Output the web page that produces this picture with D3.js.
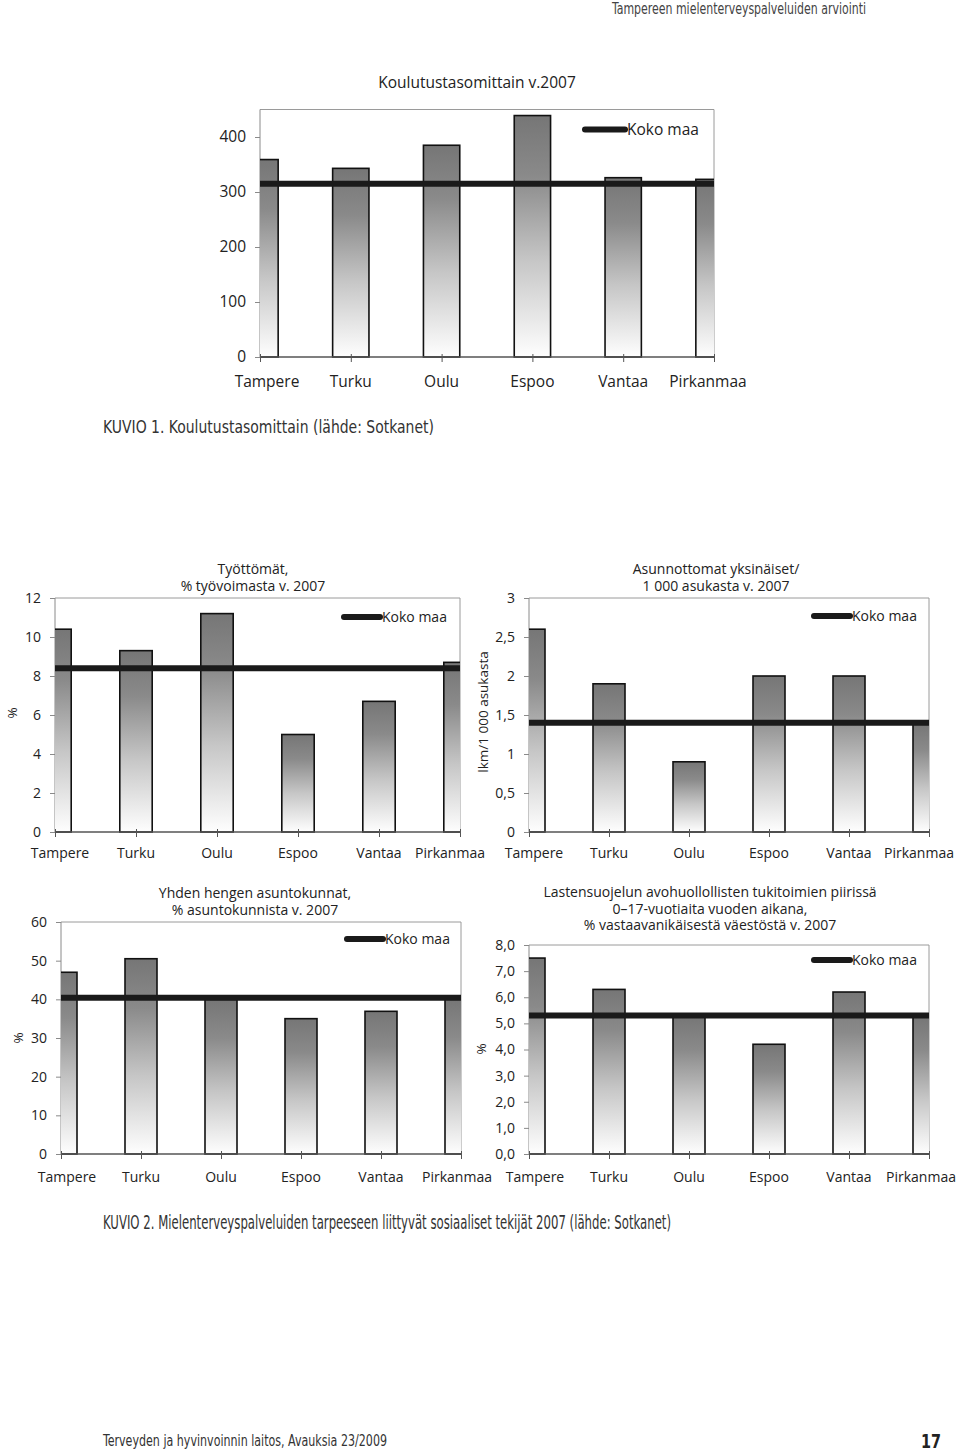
<!DOCTYPE html>
<html>
<head>
<meta charset="utf-8">
<script src="https://cdn.jsdelivr.net/npm/d3@7/dist/d3.min.js"></script>
<style>
  html, body { margin: 0; padding: 0; background: #fff; }
  svg { display: block; }
</style>
</head>
<body>
<svg id="page" width="960" height="1451"></svg>
<script>
// ---------------- DATA ----------------
const categories = ["Tampere", "Turku", "Oulu", "Espoo", "Vantaa", "Pirkanmaa"];

const koulutusValues = [359, 343, 385, 439, 326, 323];
const koulutusKoko = 315;
const koulutusTicks = [0, 100, 200, 300, 400];

const tyottomatValues = [10.4, 9.3, 11.2, 5.0, 6.7, 8.7];
const tyottomatKoko = 8.4;
const tyottomatTicks = [0, 2, 4, 6, 8, 10, 12];

const asunnottomatValues = [2.6, 1.9, 0.9, 2.0, 2.0, 1.4];
const asunnottomatKoko = 1.4;
const asunnottomatTicks = [0, 0.5, 1, 1.5, 2, 2.5, 3];

const yhdenValues = [47, 50.5, 40.0, 35.0, 36.9, 40.2];
const yhdenKoko = 40.4;
const yhdenTicks = [0, 10, 20, 30, 40, 50, 60];

const lastensValues = [7.5, 6.3, 5.3, 4.2, 6.2, 5.3];
const lastensKoko = 5.3;
const lastensTicks = [0, 1, 2, 3, 4, 5, 6, 7, 8];

const legendLabel = "Koko maa";

// ---------------- DRAWING ----------------
const svg = d3.select("#page");
const FONT = "'Open Sans', 'Noto Sans', sans-serif";
const NARROW = "'Liberation Sans Narrow', 'DejaVu Sans Condensed', sans-serif";

const defs = svg.append("defs");
const grad = defs.append("linearGradient")
  .attr("id", "barGrad").attr("x1", 0).attr("y1", 0).attr("x2", 0).attr("y2", 1);
[[0, "#767676"], [0.25, "#8a8a8a"], [0.6, "#c6c6c6"], [1, "#fefefe"]].forEach(s =>
  grad.append("stop").attr("offset", s[0]).attr("stop-color", s[1]));

const commaFmt1 = d => d3.format(".1f")(d).replace(".", ",");
const commaFmtG = d => String(d).replace(".", ",");

let chartId = 0;
function drawChart(cfg) {
  const id = chartId++;
  const g = svg.append("g");
  const x = d3.scalePoint().domain(categories).range([cfg.left, cfg.right]);
  const y = d3.scaleLinear().domain([0, cfg.max]).range([cfg.bottom, cfg.top]);
  const step = x.step();
  const bw = step * 0.4;

  defs.append("clipPath").attr("id", "clip" + id)
    .append("rect")
    .attr("x", cfg.left).attr("y", cfg.top - 2)
    .attr("width", cfg.right - cfg.left).attr("height", cfg.bottom - cfg.top + 4);

  // plot border (top & right)
  g.append("path")
    .attr("d", `M${cfg.left},${cfg.top}H${cfg.right}V${cfg.bottom}`)
    .attr("fill", "none").attr("stroke", "#9a9a9a").attr("stroke-width", 1);

  // y axis
  const yAxis = d3.axisLeft(y).tickValues(cfg.ticks).tickSize(5).tickPadding(9)
    .tickFormat(cfg.fmt || (d => d));
  const ya = g.append("g").attr("transform", `translate(${cfg.left},0)`).call(yAxis);
  ya.select(".domain").attr("stroke", "#8a8a8a").attr("d", `M0,${cfg.top}V${cfg.bottom}`);
  ya.selectAll(".tick line").attr("stroke", "#8a8a8a");
  ya.selectAll("text").attr("font-family", FONT).attr("font-size", cfg.fs).attr("fill", "#222");

  // bars
  const bars = g.append("g").attr("clip-path", `url(#clip${id})`);
  bars.selectAll("rect").data(cfg.values).join("rect")
    .attr("x", (d, i) => x(categories[i]) - bw / 2)
    .attr("y", d => y(d))
    .attr("width", bw)
    .attr("height", d => y(0) - y(d))
    .attr("fill", "url(#barGrad)")
    .attr("stroke", "#111").attr("stroke-width", 1.6);

  // x axis
  const xAxis = d3.axisBottom(x).tickSize(5).tickFormat("");
  const xa = g.append("g").attr("transform", `translate(0,${cfg.bottom})`).call(xAxis);
  xa.select(".domain").attr("stroke", "#555").attr("stroke-width", 1.3)
    .attr("d", `M${cfg.left},0H${cfg.right}`);
  xa.selectAll(".tick line").attr("stroke", "#555").attr("y1", -3);

  // x labels
  g.append("g").selectAll("text").data(categories).join("text")
    .attr("x", (d, i) => x(d) + (i === 0 ? cfg.firstDx : i === categories.length - 1 ? cfg.lastDx : 0))
    .attr("y", cfg.bottom + cfg.labelDy)
    .attr("text-anchor", "middle")
    .attr("font-family", FONT).attr("font-size", cfg.fs).attr("fill", "#222")
    .text(d => d);

  // Koko maa line
  g.append("line")
    .attr("x1", cfg.left).attr("x2", cfg.right)
    .attr("y1", y(cfg.koko)).attr("y2", y(cfg.koko))
    .attr("stroke", "#1a1a1a").attr("stroke-width", 6);

  // legend
  const ly = cfg.top + cfg.legendDy;
  const lx2 = cfg.right - cfg.legendRight;
  g.append("line")
    .attr("x1", lx2 - cfg.legendLen).attr("x2", lx2).attr("y1", ly).attr("y2", ly)
    .attr("stroke", "#1a1a1a").attr("stroke-width", 6).attr("stroke-linecap", "round");
  g.append("text")
    .attr("x", lx2 + 2).attr("y", ly).attr("dy", "0.35em")
    .attr("font-family", FONT).attr("font-size", cfg.fs).attr("fill", "#222")
    .text(legendLabel);

  // title
  g.append("g").selectAll("text").data(cfg.title).join("text")
    .attr("x", cfg.titleX).attr("y", (d, i) => cfg.titleY + i * cfg.titleLH)
    .attr("text-anchor", "middle")
    .attr("font-family", FONT).attr("font-size", cfg.titleFs).attr("fill", "#222")
    .text(d => d);

  // y label
  if (cfg.ylabel) {
    g.append("text")
      .attr("transform", `translate(${cfg.ylabelX},${cfg.ylabelY}) rotate(-90)`)
      .attr("text-anchor", "middle").attr("dy", "0.35em")
      .attr("font-family", FONT).attr("font-size", cfg.fs - 0.5).attr("fill", "#222")
      .text(cfg.ylabel);
  }
}

// Top chart
drawChart({
  values: koulutusValues, koko: koulutusKoko, ticks: koulutusTicks, max: 450,
  left: 260, right: 714, top: 109.5, bottom: 357,
  fs: 15.5, labelDy: 30, firstDx: 7, lastDx: -6,
  legendDy: 20, legendRight: 89, legendLen: 40,
  title: ["Koulutustasomittain v.2007"], titleX: 477, titleY: 88, titleLH: 17, titleFs: 15.5
});

// Työttömät
drawChart({
  values: tyottomatValues, koko: tyottomatKoko, ticks: tyottomatTicks, max: 12,
  left: 55, right: 460, top: 598, bottom: 832,
  fs: 14, labelDy: 26, firstDx: 5, lastDx: -10,
  legendDy: 19, legendRight: 80, legendLen: 36,
  title: ["Työttömät,", "% työvoimasta v. 2007"], titleX: 253, titleY: 574, titleLH: 16.5, titleFs: 14,
  ylabel: "%", ylabelX: 12, ylabelY: 713
});

// Asunnottomat
drawChart({
  values: asunnottomatValues, koko: asunnottomatKoko, ticks: asunnottomatTicks, max: 3,
  left: 529, right: 929, top: 598, bottom: 832, fmt: commaFmtG,
  fs: 14, labelDy: 26, firstDx: 5, lastDx: -10,
  legendDy: 18, legendRight: 79, legendLen: 36,
  title: ["Asunnottomat yksinäiset/", "1 000 asukasta v. 2007"], titleX: 716, titleY: 574, titleLH: 16.5, titleFs: 14,
  ylabel: "lkm/1 000 asukasta", ylabelX: 483, ylabelY: 712
});

// Yhden hengen asuntokunnat
drawChart({
  values: yhdenValues, koko: yhdenKoko, ticks: yhdenTicks, max: 60,
  left: 61, right: 461, top: 922, bottom: 1154,
  fs: 14, labelDy: 28, firstDx: 6, lastDx: -4,
  legendDy: 17, legendRight: 78, legendLen: 36,
  title: ["Yhden hengen asuntokunnat,", "% asuntokunnista v. 2007"], titleX: 255, titleY: 898, titleLH: 16.5, titleFs: 14,
  ylabel: "%", ylabelX: 18, ylabelY: 1038
});

// Lastensuojelu
drawChart({
  values: lastensValues, koko: lastensKoko, ticks: lastensTicks, max: 8,
  left: 529, right: 929, top: 945, bottom: 1154, fmt: commaFmt1,
  fs: 14, labelDy: 28, firstDx: 6, lastDx: -8,
  legendDy: 15, legendRight: 79, legendLen: 36,
  title: ["Lastensuojelun avohuollollisten tukitoimien piirissä", "0–17-vuotiaita vuoden aikana,", "% vastaavanikäisestä väestöstä v. 2007"],
  titleX: 710, titleY: 897, titleLH: 16.5, titleFs: 14,
  ylabel: "%", ylabelX: 481, ylabelY: 1049
});

// Page texts
function pageText(txt, x, y, size, len, opts = {}) {
  svg.append("text").attr("x", x).attr("y", y)
    .attr("font-family", NARROW).attr("font-size", size)
    .attr("fill", opts.fill || "#222").attr("font-weight", opts.weight || "normal")
    .attr("textLength", len).attr("lengthAdjust", "spacingAndGlyphs")
    .text(txt);
}
pageText("Tampereen mielenterveyspalveluiden arviointi", 612, 14, 15, 254, { fill: "#444" });
pageText("KUVIO 1. Koulutustasomittain (lähde: Sotkanet)", 103, 433, 18, 331, { fill: "#333" });
pageText("KUVIO 2. Mielenterveyspalveluiden tarpeeseen liittyvät sosiaaliset tekijät 2007 (lähde: Sotkanet)", 103, 1229, 19, 568, { fill: "#333" });
pageText("Terveyden ja hyvinvoinnin laitos, Avauksia 23/2009", 103, 1446, 15.5, 284, { fill: "#333" });
pageText("17", 921, 1448, 19, 20, { fill: "#222", weight: "bold" });
</script>
</body>
</html>
